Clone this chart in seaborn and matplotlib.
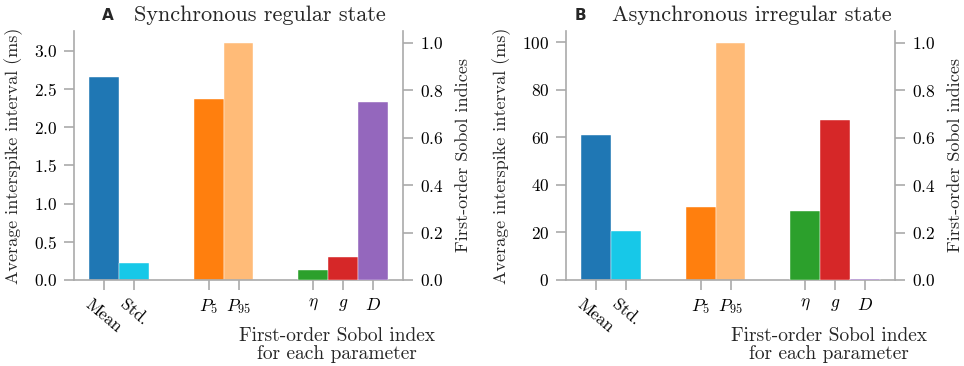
import numpy as np
import pandas as pd
import seaborn as sns
import matplotlib
matplotlib.use("Agg")
import matplotlib.pyplot as plt

sns.set_style("ticks")
plt.rcParams["font.family"] = ["cmr10"]
plt.rcParams["mathtext.fontset"] = "cm"
plt.rcParams["axes.formatter.use_mathtext"] = True

# bar labels / positions on the x axis
isi_labels = ["Mean", "Std.", "$P_5$", "$P_{95}$"]
isi_pos = [0, 1, 3.5, 4.5]
sobol_labels = [r"$\eta$", "$g$", "$D$"]
sobol_pos = [7, 8, 9]

isi_colors = ["#1f77b4", "#17c8e8", "#ff7f0e", "#ffbb78"]
sobol_colors = ["#2ca02c", "#d62728", "#9467bd"]

# panel A: synchronous regular state
isi_sync = [2.65, 0.22, 2.37, 3.10]
sobol_sync = [0.042, 0.096, 0.752]
# panel B: asynchronous irregular state
isi_async = [61.2, 20.8, 30.9, 99.8]
sobol_async = [0.292, 0.676, 0.003]

grey = "#aaaaaa"


def panel(ax, isi, sobol, letter, letter_x, title):
    d1 = pd.DataFrame({"x": isi_pos, "y": isi, "h": isi_labels})
    sns.barplot(data=d1, x="x", y="y", hue="h", palette=isi_colors,
                native_scale=True, dodge=False, width=1.0, legend=False,
                saturation=1, ax=ax, edgecolor="white", linewidth=0.3)
    ax2 = ax.twinx()
    d2 = pd.DataFrame({"x": sobol_pos, "y": sobol, "h": sobol_labels})
    sns.barplot(data=d2, x="x", y="y", hue="h", palette=sobol_colors,
                native_scale=True, dodge=False, width=1.0, legend=False,
                saturation=1, ax=ax2, edgecolor="white", linewidth=0.3)

    ax.set_ylim(0, max(isi) * 1.05)
    ax2.set_ylim(0, 1.05)
    ax.set_xlim(-1, 10)

    ax.set_xticks(isi_pos + sobol_pos)
    ax.set_xticklabels(isi_labels + sobol_labels)
    for t in ax.get_xticklabels()[:2]:
        t.set_rotation(-40)
        t.set_ha("center")
    ax.set_ylabel("Average interspike interval (ms)", fontsize=13, labelpad=8)
    ax2.set_ylabel("First-order Sobol indices", fontsize=13, labelpad=9)
    ax2.set_yticks([0, 0.2, 0.4, 0.6, 0.8, 1.0])

    for a in (ax, ax2):
        a.spines["top"].set_visible(False)
        for s in a.spines.values():
            s.set_color(grey)
            s.set_linewidth(1.2)
        a.tick_params(colors=grey, labelcolor="black", width=1.2, length=7,
                      labelsize=12.5, pad=5)
    ax2.spines["left"].set_visible(False)
    ax.spines["right"].set_visible(False)
    ax2.spines["bottom"].set_visible(False)
    ax.set_xlabel("First-order Sobol index\nfor each parameter", fontsize=14,
                  linespacing=1.0)
    ax.xaxis.set_label_coords(0.8, -0.19)

    bb = ax.get_position()
    fig.text(letter_x / 964, 0.958, letter, fontsize=11, fontweight="bold",
             family="DejaVu Sans", ha="center", va="center")
    fig.text(bb.x0 + 0.193, 0.958, title, fontsize=16, ha="center", va="center")


fig = plt.figure(figsize=(9.64, 3.66), dpi=100)
axA = fig.add_axes([74 / 964, 86 / 366, 329 / 964, 249 / 366])
axB = fig.add_axes([566 / 964, 86 / 366, 329 / 964, 249 / 366])
panel(axA, isi_sync, sobol_sync, "A", 108, "Synchronous regular state")
panel(axB, isi_async, sobol_async, "B", 580, "Asynchronous irregular state")
axA.set_yticks([0, 0.5, 1.0, 1.5, 2.0, 2.5, 3.0])
axB.set_yticks([0, 20, 40, 60, 80, 100])

fig.savefig("out.png", dpi=100)
